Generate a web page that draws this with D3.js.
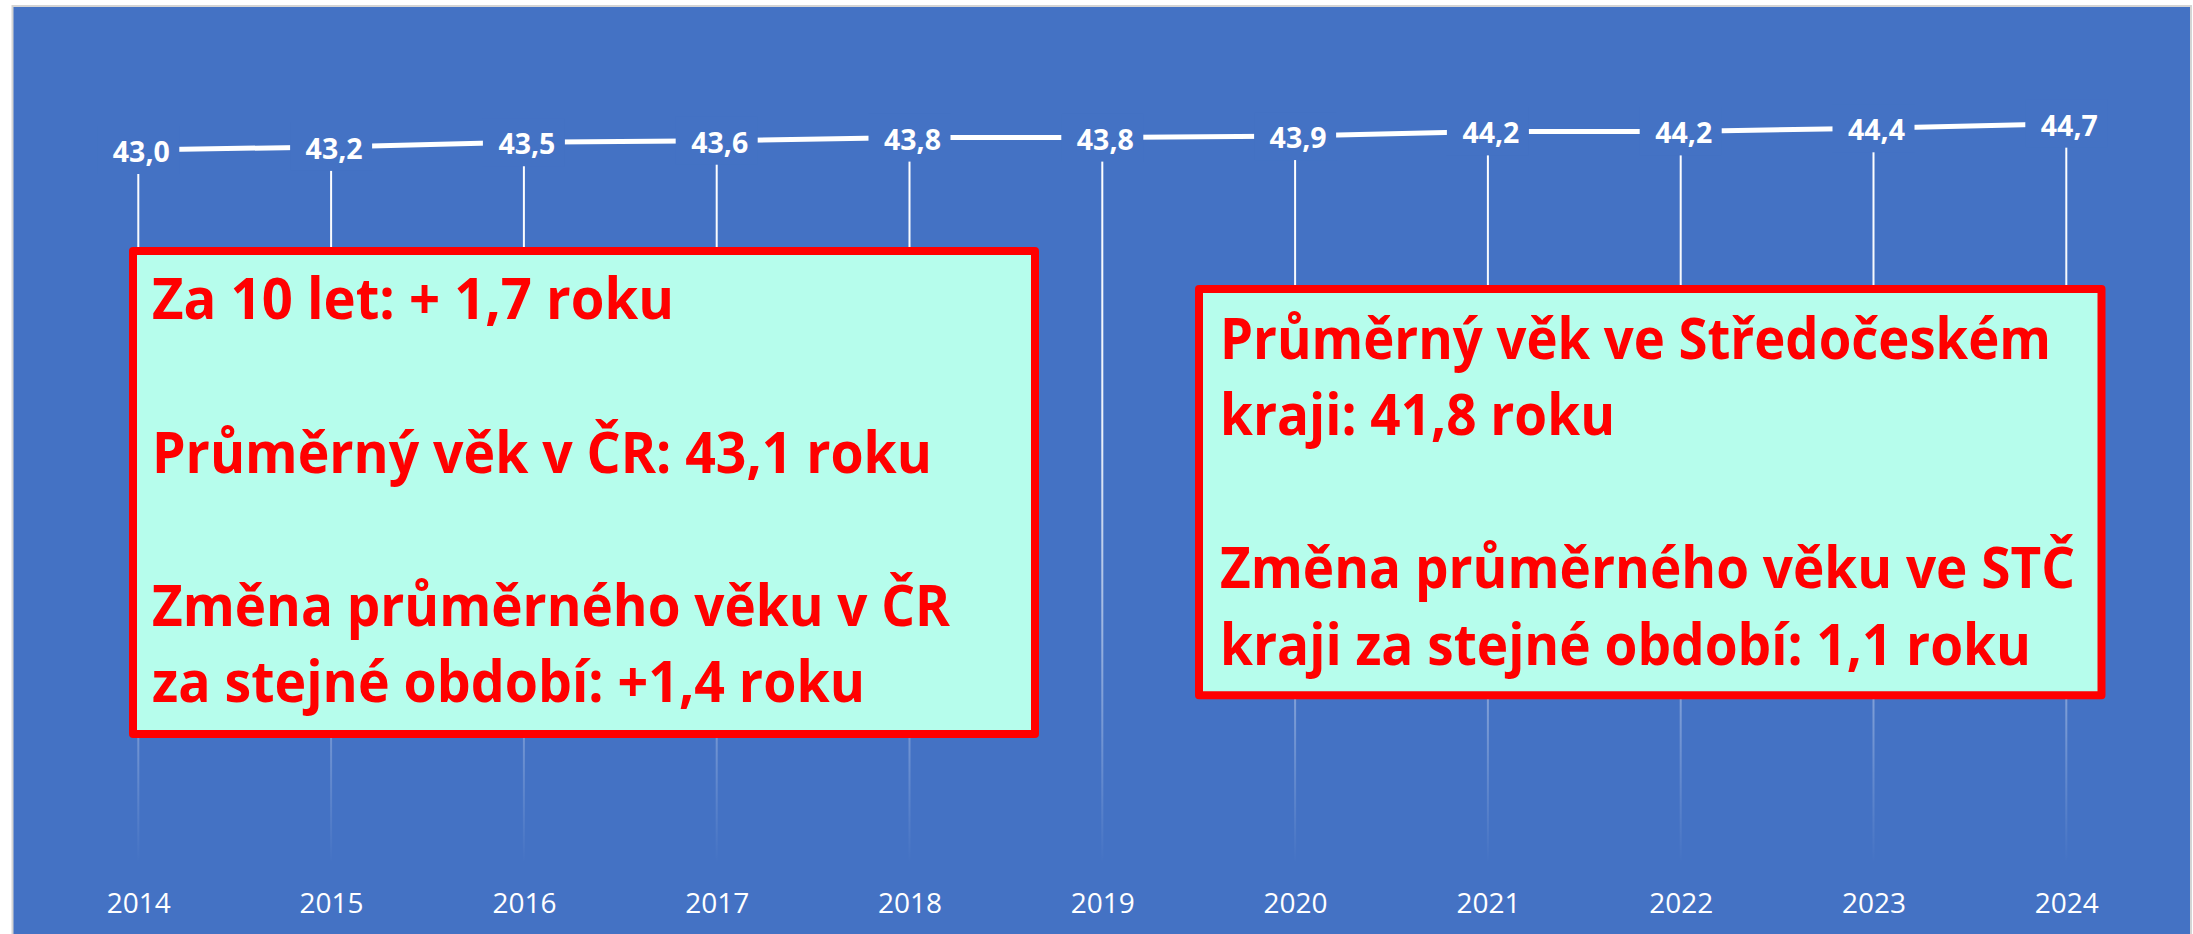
<!DOCTYPE html>
<html>
<head>
<meta charset="utf-8">
<script src="https://cdn.jsdelivr.net/npm/d3@7"></script>
<style>
  html, body { margin: 0; padding: 0; background: #ffffff; }
  svg { display: block; }
</style>
</head>
<body>
<svg id="chart" width="2193" height="934"></svg>
<script>
// ---------- data ----------
const years = ["2014", "2015", "2016", "2017", "2018", "2019", "2020", "2021", "2022", "2023", "2024"];
const avgAge = [43.0, 43.2, 43.5, 43.6, 43.8, 43.8, 43.9, 44.2, 44.2, 44.4, 44.7];
const yDomain = [-3, 50];

const leftBoxLines = [
  "Za 10 let: + 1,7 roku",
  "",
  "Průměrný věk v ČR: 43,1 roku",
  "",
  "Změna průměrného věku v ČR",
  "za stejné období: +1,4 roku"
];
const rightBoxLines = [
  "Průměrný věk ve Středočeském",
  "kraji: 41,8 roku",
  "",
  "Změna průměrného věku ve STČ",
  "kraji za stejné období: 1,1 roku"
];

// ---------- layout ----------
const W = 2193, H = 934;
const BLUE = "#4472C4";
const plot = { left: 138.3, right: 2066.3, top: 41.5, bottom: 863 };
// rendered widths of each text line (px), to mimic the original narrow typeface
const leftLineWidths  = [522, 0, 780, 0, 798, 713];
const rightLineWidths = [831, 395, 0, 855, 811];
const boxes = [
  { lines: leftBoxLines,  widths: leftLineWidths,  x0: 129,  y0: 247, x1: 1039,   y1: 738,   textX: 152,  baseline: 319.3 },
  { lines: rightBoxLines, widths: rightLineWidths, x0: 1195, y0: 285, x1: 2105.5, y1: 699.3, textX: 1220, baseline: 358.5 }
];
const lineStep = 76.6;
const BORDER = 8;

const csLocale = d3.formatLocale({ decimal: ",", thousands: " ", grouping: [3], currency: ["", " Kč"] });
const fmt = csLocale.format(".1f");

const svg = d3.select("#chart");

// background
svg.append("rect").attr("x", 0).attr("y", 0).attr("width", W).attr("height", H).attr("fill", "#ffffff");
svg.append("rect")
  .attr("x", 12.5).attr("y", 6).attr("width", 2178.5).attr("height", 940)
  .attr("fill", BLUE).attr("stroke", "#d4d4d4").attr("stroke-width", 2);

const x = d3.scalePoint().domain(years).range([plot.left, plot.right]);
const y = d3.scaleLinear().domain(yDomain).range([plot.bottom, plot.top]);

const data = years.map((yr, i) => ({ year: yr, value: avgAge[i] }));

// gradient for drop lines
const defs = svg.append("defs");
const grad = defs.append("linearGradient")
  .attr("id", "dropGrad").attr("gradientUnits", "userSpaceOnUse")
  .attr("x1", 0).attr("x2", 0).attr("y1", 150).attr("y2", plot.bottom);
grad.append("stop").attr("offset", 0).attr("stop-color", "#fff").attr("stop-opacity", 1);
grad.append("stop").attr("offset", 0.4).attr("stop-color", "#fff").attr("stop-opacity", 0.9);
grad.append("stop").attr("offset", 0.75).attr("stop-color", "#fff").attr("stop-opacity", 0.35);
grad.append("stop").attr("offset", 1).attr("stop-color", "#fff").attr("stop-opacity", 0);

// drop lines
svg.append("g").selectAll("rect")
  .data(data).join("rect")
  .attr("x", d => x(d.year) - 1)
  .attr("y", d => y(d.value))
  .attr("width", 2)
  .attr("height", d => plot.bottom - y(d.value))
  .attr("fill", "url(#dropGrad)");

// series line
const line = d3.line().x(d => x(d.year)).y(d => y(d.value));
svg.append("path")
  .datum(data)
  .attr("d", line)
  .attr("fill", "none")
  .attr("stroke", "#ffffff")
  .attr("stroke-width", 5);

// data labels with background
const lab = svg.append("g").selectAll("g").data(data).join("g")
  .attr("transform", d => `translate(${x(d.year)},${y(d.value)})`);
lab.append("rect")
  .attr("x", -41).attr("y", -24).attr("width", 82).attr("height", 48)
  .attr("fill", BLUE);
lab.append("text")
  .attr("x", 3).attr("y", 12)
  .attr("text-anchor", "middle")
  .attr("font-family", "'Open Sans', sans-serif")
  .attr("font-weight", 700)
  .attr("font-size", 28)
  .attr("textLength", 57)
  .attr("lengthAdjust", "spacingAndGlyphs")
  .attr("fill", "#ffffff")
  .text(d => fmt(d.value));

// x axis labels
const xAxis = d3.axisBottom(x).tickSize(0).tickPadding(0);
const gx = svg.append("g").attr("transform", `translate(0,${plot.bottom})`).call(xAxis);
gx.select(".domain").remove();
gx.selectAll("text")
  .attr("y", 912.7 - plot.bottom)
  .attr("dy", 0)
  .attr("font-family", "'Open Sans', sans-serif")
  .attr("font-size", 28)
  .attr("fill", "#ffffff");

// annotation boxes
boxes.forEach(b => {
  const g = svg.append("g");
  g.append("rect")
    .attr("x", b.x0 + BORDER / 2).attr("y", b.y0 + BORDER / 2)
    .attr("width", b.x1 - b.x0 - BORDER).attr("height", b.y1 - b.y0 - BORDER)
    .attr("fill", "#b6fdec")
    .attr("stroke", "#ff0000")
    .attr("stroke-width", BORDER)
    .attr("stroke-linejoin", "round");
  g.selectAll("text").data(b.lines).join("text")
    .attr("x", b.textX)
    .attr("y", (d, i) => b.baseline + i * lineStep)
    .attr("font-family", "'Open Sans', sans-serif")
    .attr("font-weight", 700)
    .attr("font-size", 57)
    .each(function (d, i) {
      if (d && b.widths[i]) {
        d3.select(this).attr("textLength", b.widths[i]).attr("lengthAdjust", "spacingAndGlyphs");
      }
    })
    .attr("fill", "#ff0000")
    .text(d => d);
});
</script>
</body>
</html>
